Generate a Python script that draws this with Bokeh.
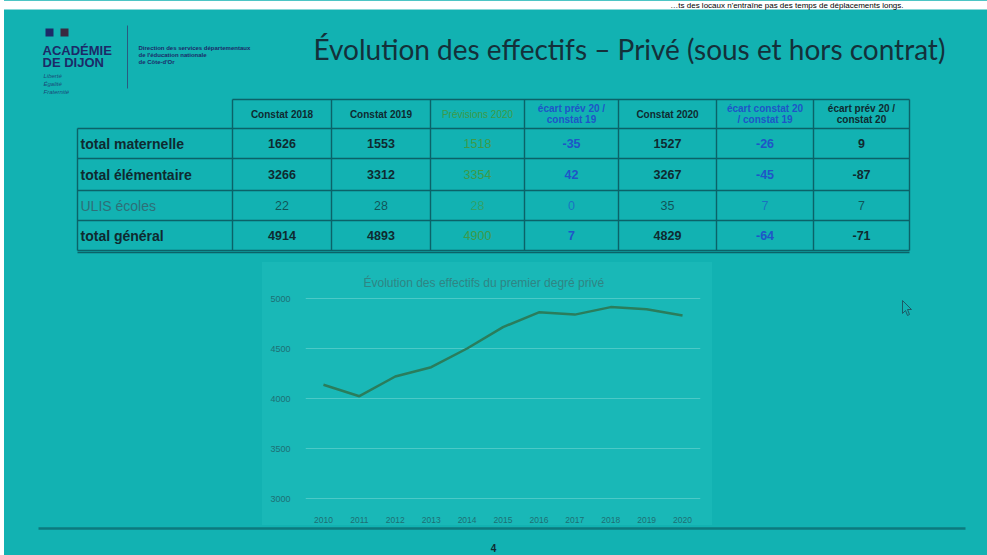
from bokeh.plotting import figure
from bokeh.layouts import column, row
from bokeh.models import Range1d, FixedTicker, ColumnDataSource
from bokeh.core.properties import value
from bokeh.embed import file_html
from bokeh.resources import INLINE

# ---------------- data ----------------
years = [2010, 2011, 2012, 2013, 2014, 2015, 2016, 2017, 2018, 2019, 2020]
effectifs = [4138, 4023, 4220, 4313, 4500, 4714, 4862, 4839, 4914, 4893, 4829]
y_ticks = [3000, 3500, 4000, 4500, 5000]

row_labels = ["total maternelle", "total élémentaire", "ULIS écoles", "total général"]
col_headers = [["Constat 2018"], ["Constat 2019"], ["Prévisions 2020"],
               ["écart prév 20 /", "constat 19"], ["Constat 2020"],
               ["écart constat 20", "/ constat 19"], ["écart prév 20 /", "constat 20"]]
constat_2018 = [1626, 3266, 22, 4914]
constat_2019 = [1553, 3312, 28, 4893]
prevision_2020 = [1518, 3354, 28, 4900]
ecart_prev20_c19 = [-35, 42, 0, 7]
constat_2020 = [1527, 3267, 35, 4829]
ecart_c20_c19 = [-26, -45, 7, -64]
ecart_prev20_c20 = [9, -87, 7, -71]
table_cols = [constat_2018, constat_2019, prevision_2020, ecart_prev20_c19,
              constat_2020, ecart_c20_c19, ecart_prev20_c20]

# ---------------- style ----------------
BG = "#12b2b2"
CHART_BG = "#19b8b7"
DARK = "#0f2a30"
GREEN = "#3e9a48"
BLUE = "#1f55c8"
NAVY = "#1c2a68"
LINE = "#0b6268"
col_colors = [DARK, DARK, GREEN, BLUE, DARK, BLUE, DARK]
FONT = value("Liberation Sans")
W, H = 987, 555

# table geometry (page pixels)
col_x = [77, 232, 331, 430, 524, 618, 716, 813, 909]
row_y = [99, 128, 158, 190, 220, 250]


def pixel_fig(x0, x1, y0, y1, height=None, top=0, bottom=0):
    p = figure(width=x1 - x0, height=height or (y1 - y0), x_range=Range1d(x0, x1),
               y_range=Range1d(y1, y0), output_backend="svg",
               toolbar_location=None, min_border=0,
               min_border_top=top, min_border_bottom=bottom,
               x_axis_type=None, y_axis_type=None)
    p.grid.visible = False
    p.outline_line_color = None
    p.background_fill_color = None
    p.border_fill_color = None
    return p


# ---------------- top: header + table ----------------
top = pixel_fig(0, W, 0, 262)
top.quad(left=[0], right=[W], top=[0], bottom=[9], color="white", line_color=None)
top.text(x=[903], y=[4.5], text=["…ts des locaux n'entraîne pas des temps de déplacements longs."],
         text_font=FONT, text_font_size="8px", text_color="black",
         text_align="right", text_baseline="middle")

# logo
top.quad(left=[45, 60], right=[53, 68], top=[28, 28], bottom=[36, 36],
         color=[NAVY, "#3a2a40"], line_color=None)
top.text(x=[42, 42], y=[50, 62], text=["ACADÉMIE", "DE DIJON"], text_font=FONT,
         text_font_style="bold", text_font_size="13px", text_color=NAVY,
         text_baseline="middle", text_align="left")
top.text(x=[43, 43, 43], y=[75, 83, 91], text=["Liberté", "Égalité", "Fraternité"],
         text_font=FONT, text_font_style="italic", text_font_size="6px",
         text_color=NAVY, text_baseline="middle", text_align="left", text_alpha=0.8)
top.segment(x0=[127], y0=[25], x1=[127], y1=[88], line_color="#2a5a80", line_width=1)
top.text(x=[138, 138, 138], y=[47, 54, 61],
         text=["Direction des services départementaux", "de l'éducation nationale", "de Côte-d'Or"],
         text_font=FONT, text_font_style="bold", text_font_size="6px",
         text_color=NAVY, text_baseline="middle", text_align="left")

# slide title
top.text(x=[313], y=[48], text=["Évolution des effectifs – Privé (sous et hors contrat)"],
         text_font=value("Lato"), text_font_size="28px", text_color="#14303a",
         text_baseline="middle", text_align="left")

# table grid
hx0 = [col_x[1]] + [col_x[0]] * (len(row_y) - 1)
hx1 = [col_x[-1]] * len(row_y)
top.segment(x0=hx0, y0=row_y, x1=hx1, y1=row_y, line_color=LINE, line_width=1.4)
vy0 = [row_y[1]] + [row_y[0]] * (len(col_x) - 1)
vy1 = [row_y[-1]] * len(col_x)
top.segment(x0=col_x, y0=vy0, x1=col_x, y1=vy1, line_color=LINE, line_width=1.4)
top.segment(x0=[col_x[0]], y0=[row_y[-1] + 2], x1=[col_x[-1]], y1=[row_y[-1] + 2],
            line_color=LINE, line_width=1.4)

# headers
hx, hy, ht, hc, hs = [], [], [], [], []
hmid = (row_y[0] + row_y[1]) / 2
for j, lines in enumerate(col_headers):
    cx = (col_x[j + 1] + col_x[j + 2]) / 2
    n = len(lines)
    for k, t in enumerate(lines):
        hx.append(cx)
        hy.append(hmid + (k - (n - 1) / 2) * 11.5)
        ht.append(t)
        hc.append(col_colors[j])
        hs.append("normal" if j == 2 else "bold")
top.text(x=hx, y=hy, text=ht, text_color=hc, text_font_style=hs, text_font=FONT,
         text_font_size="10px", text_align="center", text_baseline="middle")

# row labels
ry = [(row_y[i + 1] + row_y[i + 2]) / 2 for i in range(len(row_labels))]
top.text(x=[col_x[0] + 3] * len(row_labels), y=ry, text=row_labels,
         text_color=[DARK, DARK, "#2e6f78", DARK],
         text_font_style=["bold", "bold", "normal", "bold"],
         text_font=FONT, text_font_size="14px", text_align="left", text_baseline="middle")

# cells
cx_, cy_, ct_, cc_, cs_, ca_ = [], [], [], [], [], []
for j, vals in enumerate(table_cols):
    x = (col_x[j + 1] + col_x[j + 2]) / 2
    for i, v in enumerate(vals):
        cx_.append(x)
        cy_.append(ry[i])
        ct_.append(str(v))
        cc_.append(col_colors[j])
        ulis = (i == 2)
        cs_.append("normal" if (ulis or j == 2) else "bold")
        ca_.append(0.7 if ulis else 1.0)
top.text(source=ColumnDataSource(dict(x=cx_, y=cy_, t=ct_, c=cc_, s=cs_, a=ca_)),
         x="x", y="y", text="t", text_color="c", text_font_style="s", text_alpha="a",
         text_font=FONT, text_font_size="12.5px", text_align="center", text_baseline="middle")

# ---------------- middle: chart ----------------
# chart frame spans page y 296..500 (34 px above, 25 px below inside a 263 px row)
left = pixel_fig(0, 262, 296, 500, height=263, top=34, bottom=25)
right = pixel_fig(712, W, 296, 500, height=263, top=34, bottom=25)
# mouse pointer
right.patch(x=[902, 902, 905, 907, 909, 907, 911], y=[300, 313, 310, 315, 314, 309, 309],
            fill_color=None, line_color="#1d5a66", line_width=1)

chart = figure(frame_width=395, frame_height=204, x_range=Range1d(2009.5, 2020.5),
               y_range=Range1d(2980, 5020), output_backend="svg", toolbar_location=None,
               min_border_left=43, min_border_right=12, min_border_top=34,
               min_border_bottom=25, styles={"background-color": CHART_BG})
chart.background_fill_color = None
chart.border_fill_color = None
chart.outline_line_color = None
chart.xgrid.visible = False
chart.ygrid.grid_line_color = "#4cc9c7"
chart.ygrid.grid_line_width = 1
chart.xaxis.ticker = FixedTicker(ticks=years)
chart.yaxis.ticker = FixedTicker(ticks=y_ticks)
for ax in (chart.xaxis, chart.yaxis):
    ax.axis_line_color = None
    ax.major_tick_line_color = None
    ax.minor_tick_line_color = None
    ax.major_label_text_color = "#1e6f74"
    ax.major_label_text_font = "Liberation Sans"
chart.xaxis.major_label_text_font_size = "8.5px"
chart.yaxis.major_label_text_font_size = "9px"
chart.xaxis.major_label_standoff = 10
chart.yaxis.major_label_standoff = 9

chart.line(years, effectifs, line_color="#2a7d5c", line_width=2.5)
chart.title.text = "Évolution des effectifs du premier degré privé"
chart.title.align = "left"
chart.title.text_font_size = "12px"
chart.title.text_font = "Liberation Sans"
chart.title.text_font_style = "normal"
chart.title.text_color = "#2f8584"
chart.title.standoff = 14
chart.title.offset = 58

# ---------------- bottom ----------------
bottom = pixel_fig(0, W, 525, H)
bottom.segment(x0=[38], y0=[528], x1=[965], y1=[528], line_color="#0c7a7e", line_width=2.5)
bottom.text(x=[493], y=[547], text=["4"], text_font=FONT, text_font_style="bold",
            text_font_size="10px", text_color=DARK, text_align="center", text_baseline="middle")

layout = column(top, row(left, chart, right), bottom,
                styles={"background": f"linear-gradient(to right, white 0px, white 4px, {BG} 4px)"})
open("out.html", "w").write(file_html(layout, INLINE))
